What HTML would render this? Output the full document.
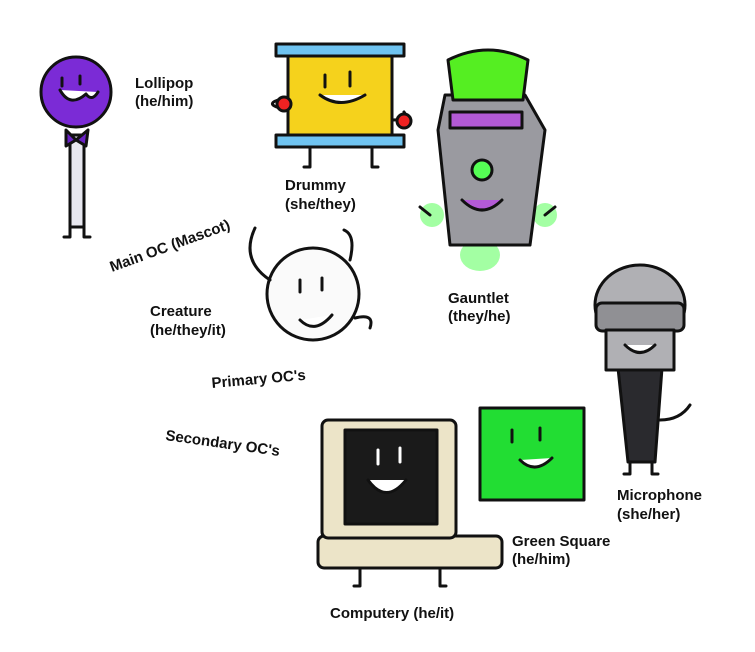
<!DOCTYPE html>
<html><head><meta charset="utf-8"><style>
html,body{margin:0;padding:0;background:#fff;}
svg{display:block;}
text{font-family:"Liberation Sans",sans-serif;font-weight:bold;font-size:15px;fill:#111;}
</style></head><body>
<svg width="755" height="652" viewBox="0 0 755 652" xmlns="http://www.w3.org/2000/svg">
<g stroke="#111" stroke-width="3" stroke-linecap="round" stroke-linejoin="round">
<!-- Lollipop -->
<rect x="70" y="135" width="14" height="92" fill="#e8e8f0"/>
<circle cx="76" cy="92" r="35" fill="#7b2bd6"/>
<path d="M66 130 L76 140 L88 130 L86 146 L76 140 L66 146Z" fill="#6a22c4"/>
<path d="M70 227 v10 h-6 M84 227 v10 h6" fill="none"/>
<path d="M60 90 q10 18 26 4 q6 8 12 -2" fill="#fff"/>
<path d="M62 78 v8 M80 76 v8" fill="none"/>
<!-- Drummy -->
<rect x="288" y="55" width="104" height="82" fill="#f5d21c"/>
<rect x="276" y="44" width="128" height="12" fill="#6fc3f0"/>
<rect x="276" y="135" width="128" height="12" fill="#6fc3f0"/>
<path d="M288 110 q-25 -5 -10 -10 M392 120 q18 0 12 -8" fill="none"/>
<circle cx="284" cy="104" r="7" fill="#e22"/>
<circle cx="404" cy="121" r="7" fill="#e22"/>
<path d="M310 147 v20 h-6 M372 147 v20 h6" fill="none"/>
<path d="M320 95 q20 15 45 0" fill="#fff"/>
<path d="M325 75 v12 M350 72 v14" fill="none"/>
<!-- Gauntlet -->
<ellipse cx="432" cy="215" rx="12" ry="12" fill="#6f6" stroke="none" opacity=".6"/>
<ellipse cx="545" cy="215" rx="12" ry="12" fill="#6f6" stroke="none" opacity=".6"/>
<ellipse cx="480" cy="255" rx="20" ry="16" fill="#6f6" stroke="none" opacity=".6"/>
<path d="M445 95 L525 95 L545 130 L530 245 L450 245 L438 130Z" fill="#9a9aa0"/>
<path d="M448 60 q40 -20 80 0 l-5 40 h-70Z" fill="#55ee22"/>
<rect x="450" y="112" width="72" height="16" fill="#b35ad6"/>
<circle cx="482" cy="170" r="10" fill="#5f5"/>
<path d="M462 200 q20 20 40 0" fill="#b35ad6"/>
<path d="M430 215 l-10 -8 M545 215 l10 -8" fill="none"/>
<!-- Creature -->
<circle cx="313" cy="294" r="46" fill="#fafafa"/>
<path d="M270 280 q-30 -20 -15 -52 M350 260 q6 -25 -6 -30 M355 318 q20 -5 15 10" fill="none"/>
<path d="M300 320 q15 15 32 -5" fill="#fff"/>
<path d="M300 280 v12 M322 278 v12" fill="none"/>
<!-- Microphone -->
<path d="M618 368 L662 368 L655 462 L628 462Z" fill="#2a2a2e"/>
<ellipse cx="640" cy="305" rx="45" ry="40" fill="#b0b0b4"/>
<rect x="596" y="303" width="88" height="28" rx="6" fill="#909094"/>
<rect x="606" y="330" width="68" height="40" fill="#b0b0b4"/>
<path d="M630 462 v12 h-6 M652 462 v12 h6 M660 420 q20 0 30 -15" fill="none"/>
<path d="M625 345 q15 15 30 0" fill="#fff"/>
<!-- Green square -->
<rect x="480" y="408" width="104" height="92" fill="#22dd33"/>
<path d="M520 460 q15 15 32 -2" fill="#fff"/>
<path d="M512 430 v12 M540 428 v12" fill="none"/>
<!-- Computer -->
<rect x="318" y="536" width="184" height="32" rx="6" fill="#ece4c8"/>
<rect x="322" y="420" width="134" height="118" rx="6" fill="#ece4c8"/>
<rect x="345" y="430" width="92" height="94" fill="#1a1a1a"/>
<path d="M368 480 q18 25 38 0" fill="#fff"/>
<path d="M378 450 v14 M400 448 v14" fill="none" stroke="#fff"/>
<path d="M360 568 v18 h-6 M440 568 v18 h6" fill="none"/>
</g>
<text x="135" y="88">Lollipop</text><text x="135" y="106">(he/him)</text>
<text x="285" y="190">Drummy</text><text x="285" y="209">(she/they)</text>
<text x="448" y="303">Gauntlet</text><text x="448" y="321">(they/he)</text>
<text x="150" y="316">Creature</text><text x="150" y="335">(he/they/it)</text>
<text x="617" y="500">Microphone</text><text x="617" y="519">(she/her)</text>
<text x="512" y="546">Green Square</text><text x="512" y="564">(he/him)</text>
<text x="330" y="618">Computery (he/it)</text>
<text x="112" y="272" transform="rotate(-20 112 272)">Main OC (Mascot)</text>
<text x="212" y="388" transform="rotate(-5 212 388)">Primary OC's</text>
<text x="165" y="440" transform="rotate(8 165 440)">Secondary OC's</text>
</svg>
</body></html>
